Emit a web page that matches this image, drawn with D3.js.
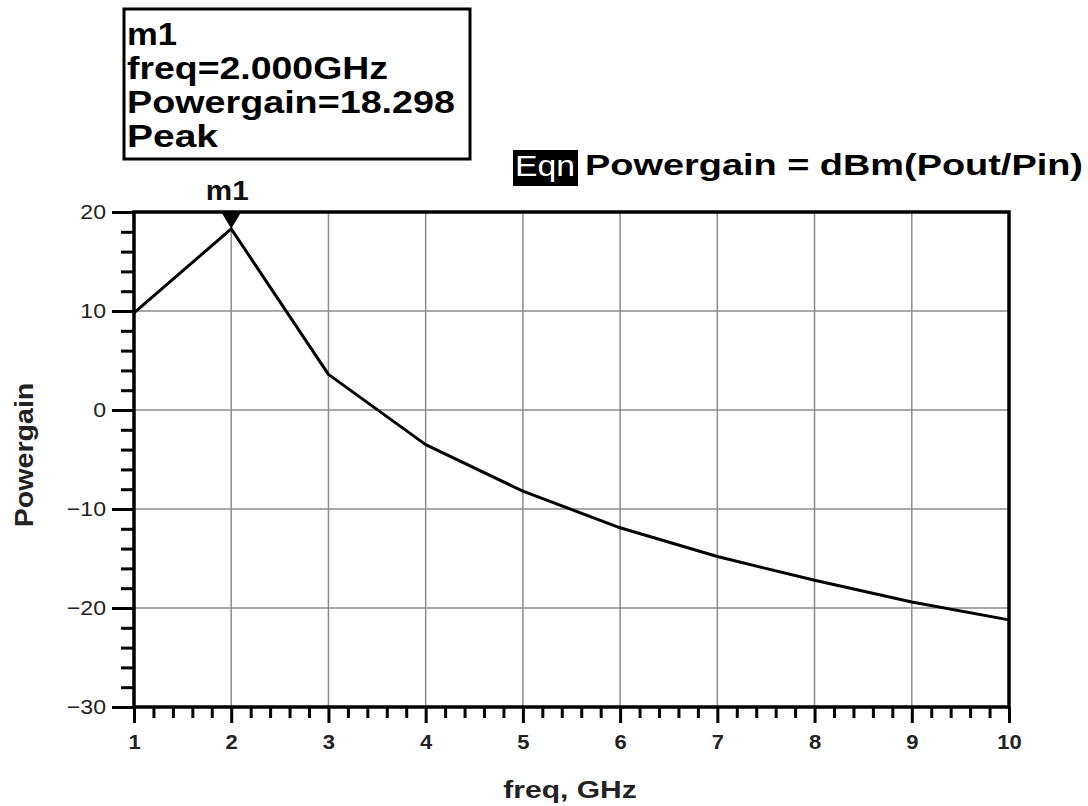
<!DOCTYPE html>
<meta charset="utf-8">
<script src="https://d3js.org/d3.v7.min.js"></script>
<style>
  body { margin: 0; background: #fff; }
  text { font-family: Arial, "Liberation Sans", Helvetica, sans-serif; }
</style>
<div id="my_dataviz"></div>
<script>

// data
var freq = [1, 2, 3, 4, 5, 6, 7, 8, 9, 10];
var powergain = [9.8, 18.298, 3.6, -3.5, -8.2, -11.9, -14.8, -17.2, -19.4, -21.2];
var yTicks = [-30, -20, -10, 0, 10, 20];
var xTicks = [1, 2, 3, 4, 5, 6, 7, 8, 9, 10];
var markerLines = ["m1", "freq=2.000GHz", "Powergain=18.298", "Peak"];

var W = 1088, H = 806;
var pLeft = 134, pRight = 1009, pTop = 212, pBottom = 707;

var svg = d3.select("#my_dataviz")
  .append("svg")
    .attr("width", W)
    .attr("height", H);

var x = d3.scaleLinear().domain([1, 10]).range([pLeft, pRight]);
var y = d3.scaleLinear().domain([-30, 20]).range([pBottom, pTop]);

// stretch text a bit, the original font is wider than Arial
function stretch(sel, k) {
  sel.each(function() {
    var len = this.getComputedTextLength();
    d3.select(this).attr("textLength", len * k).attr("lengthAdjust", "spacingAndGlyphs");
  });
}

// grid
svg.append("g")
  .selectAll("line")
  .data(xTicks.slice(1, -1))
  .join("line")
    .attr("x1", d => x(d)).attr("x2", d => x(d))
    .attr("y1", pTop).attr("y2", pBottom)
    .attr("stroke", "#8c8c8c").attr("stroke-width", 1.5);

svg.append("g")
  .selectAll("line")
  .data(yTicks.slice(1, -1))
  .join("line")
    .attr("x1", pLeft).attr("x2", pRight)
    .attr("y1", d => y(d)).attr("y2", d => y(d))
    .attr("stroke", "#8c8c8c").attr("stroke-width", 1.5);

// y axis: major + minor ticks
var yMinor = d3.range(-30, 20.01, 2).filter(d => d % 10 != 0);
var yMajorAxis = svg.append("g")
  .attr("transform", "translate(" + pLeft + ",0)")
  .call(d3.axisLeft(y).tickValues(yTicks).tickSize(22).tickPadding(6)
        .tickFormat(d => d < 0 ? "\u2212" + Math.abs(d) : d));
yMajorAxis.select(".domain").remove();
yMajorAxis.selectAll("line").attr("stroke-width", 3);
yMajorAxis.selectAll("text")
  .attr("font-size", 21).attr("font-family", "Arial, 'Liberation Sans', sans-serif")
  .attr("fill", "#222");
stretch(yMajorAxis.selectAll("text"), 1.1);

var yMinorAxis = svg.append("g")
  .attr("transform", "translate(" + pLeft + ",0)")
  .call(d3.axisLeft(y).tickValues(yMinor).tickSize(13).tickFormat(""));
yMinorAxis.select(".domain").remove();
yMinorAxis.selectAll("line").attr("stroke-width", 3);

// x axis: major + minor ticks
var xMinor = d3.range(1, 10.001, 0.2).filter(d => Math.abs(d - Math.round(d)) > 0.01);
var xMajorAxis = svg.append("g")
  .attr("transform", "translate(0," + pBottom + ")")
  .call(d3.axisBottom(x).tickValues(xTicks).tickSize(16).tickPadding(12).tickFormat(d3.format("d")));
xMajorAxis.select(".domain").remove();
xMajorAxis.selectAll("line").attr("stroke-width", 3);
xMajorAxis.selectAll("text")
  .attr("font-size", 20).attr("font-weight", "bold")
  .attr("font-family", "Arial, 'Liberation Sans', sans-serif").attr("fill", "#222");
stretch(xMajorAxis.selectAll("text"), 1.1);

var xMinorAxis = svg.append("g")
  .attr("transform", "translate(0," + pBottom + ")")
  .call(d3.axisBottom(x).tickValues(xMinor).tickSize(11).tickFormat(""));
xMinorAxis.select(".domain").remove();
xMinorAxis.selectAll("line").attr("stroke-width", 3);

// frame
svg.append("rect")
  .attr("x", pLeft).attr("y", pTop)
  .attr("width", pRight - pLeft).attr("height", pBottom - pTop)
  .attr("fill", "none").attr("stroke", "#000").attr("stroke-width", 3.5);

// trace
var pts = freq.map((f, i) => [f, powergain[i]]);
svg.append("path")
  .datum(pts)
  .attr("fill", "none")
  .attr("stroke", "#000")
  .attr("stroke-width", 3)
  .attr("stroke-linejoin", "round")
  .attr("d", d3.line().x(d => x(d[0])).y(d => y(d[1])));

// marker m1 at peak
var mx = x(freq[1]), my = y(powergain[1]);
svg.append("path")
  .attr("d", "M" + (mx - 10) + "," + pTop + "L" + (mx + 10) + "," + pTop + "L" + mx + "," + my + "Z")
  .attr("fill", "#000");
svg.append("text")
  .attr("x", mx - 4).attr("y", 200)
  .attr("text-anchor", "middle")
  .attr("font-size", 27).attr("font-weight", "bold")
  .attr("fill", "#111")
  .text("m1")
  .call(stretch, 1.1);

// marker readout box
svg.append("rect")
  .attr("x", 124).attr("y", 9).attr("width", 346).attr("height", 150)
  .attr("fill", "none").attr("stroke", "#000").attr("stroke-width", 3);
var lineWidths = [50, 261, 328, 91];
svg.append("g")
  .selectAll("text")
  .data(markerLines)
  .join("text")
    .attr("x", 127)
    .attr("y", (d, i) => 45 + i * 34)
    .attr("font-size", 31)
    .attr("font-weight", "bold")
    .attr("fill", "#000")
    .attr("textLength", (d, i) => lineWidths[i])
    .attr("lengthAdjust", "spacingAndGlyphs")
    .text(d => d);

// equation
svg.append("rect")
  .attr("x", 513).attr("y", 150).attr("width", 65).attr("height", 36)
  .attr("fill", "#000");
svg.append("text")
  .attr("x", 515).attr("y", 176)
  .attr("font-size", 30)
  .attr("textLength", 60).attr("lengthAdjust", "spacingAndGlyphs")
  .attr("fill", "#fff")
  .text("Eqn");
svg.append("text")
  .attr("x", 585).attr("y", 175)
  .attr("font-size", 30).attr("font-weight", "bold")
  .attr("fill", "#000")
  .attr("textLength", 498).attr("lengthAdjust", "spacingAndGlyphs")
  .text("Powergain = dBm(Pout/Pin)");

// axis titles
svg.append("text")
  .attr("transform", "translate(33,455) rotate(-90)")
  .attr("text-anchor", "middle")
  .attr("font-size", 26).attr("font-weight", "bold")
  .attr("fill", "#222")
  .text("Powergain")
  .call(stretch, 1.1);

svg.append("text")
  .attr("x", 570).attr("y", 798)
  .attr("text-anchor", "middle")
  .attr("font-size", 24).attr("font-weight", "bold")
  .attr("fill", "#222")
  .text("freq, GHz")
  .call(stretch, 1.25);

</script>
